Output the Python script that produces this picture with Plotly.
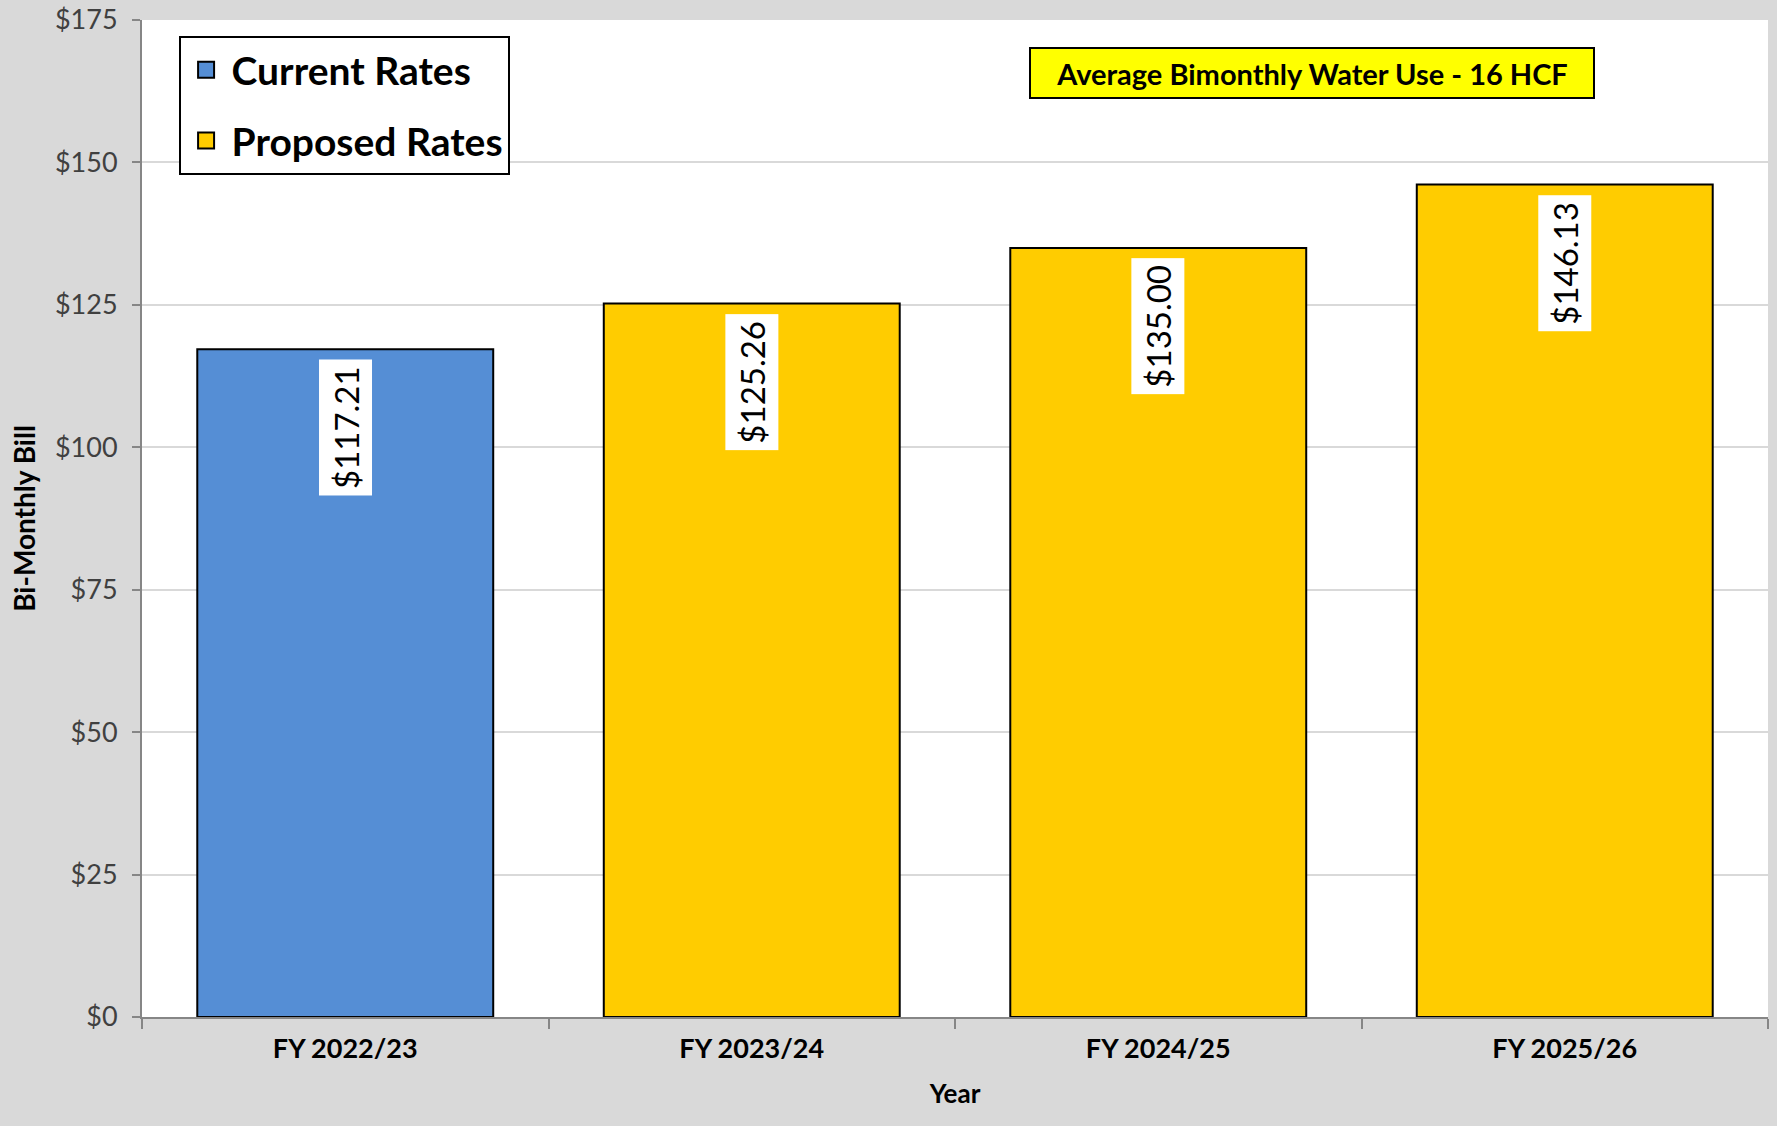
import plotly.graph_objects as go

categories = ["FY 2022/23", "FY 2023/24", "FY 2024/25", "FY 2025/26"]
current_cats = ["FY 2022/23"]
current_vals = [117.21]
proposed_cats = ["FY 2023/24", "FY 2024/25", "FY 2025/26"]
proposed_vals = [125.26, 135.00, 146.13]
y_ticks = [0, 25, 50, 75, 100, 125, 150, 175]
y_ticktext = ["$0", "$25", "$50", "$75", "$100", "$125", "$150", "$175"]

FONT = "Lato"
BLUE = "#558ED5"
GOLD = "#FFCC00"
fig = go.Figure()
fig.add_trace(go.Bar(
    x=current_cats, y=current_vals, name="Current Rates", showlegend=False,
    marker=dict(color=BLUE, line=dict(color="black", width=2)),
    width=0.728, hoverinfo="skip"))
fig.add_trace(go.Bar(
    x=proposed_cats, y=proposed_vals, name="Proposed Rates", showlegend=False,
    marker=dict(color=GOLD, line=dict(color="black", width=2)),
    width=0.728, hoverinfo="skip"))
# legend entries with square swatches
fig.add_trace(go.Scatter(x=[None], y=[None], mode="markers", name="<b>Current Rates</b>",
                         legendgroup="a",
                         marker=dict(symbol="square", size=22, color=BLUE, line=dict(color="black", width=2))))
fig.add_trace(go.Scatter(x=[None], y=[None], mode="markers", name="<b>Proposed Rates</b>",
                         legendgroup="b",
                         marker=dict(symbol="square", size=22, color=GOLD, line=dict(color="black", width=2))))

for c, v in list(zip(current_cats, current_vals)) + list(zip(proposed_cats, proposed_vals)):
    fig.add_annotation(x=c, y=v, xref="x", yref="y", text=f"${v:.2f}",
                       textangle=-90, showarrow=False, yanchor="top", xanchor="center",
                       yshift=-10, bgcolor="white", borderpad=6,
                       font=dict(family=FONT, size=33, color="black"))

fig.add_annotation(x=0.7194, y=0.947, xref="paper", yref="paper",
                   text="<b>Average Bimonthly Water Use - 16 HCF</b>", showarrow=False,
                   xanchor="center", yanchor="middle", bgcolor="#FFFF00",
                   bordercolor="black", borderwidth=2, borderpad=2, width=558, height=44,
                   font=dict(family=FONT, size=29, color="black"))

fig.update_layout(
    width=1777, height=1126,
    margin=dict(l=142, r=9, t=20, b=109, autoexpand=False),
    paper_bgcolor="#D9D9D9", plot_bgcolor="white",
    barmode="overlay",
    showlegend=True,
    legend=dict(x=0.0225, y=0.984, xanchor="left", yanchor="top",
                bgcolor="white", bordercolor="black", borderwidth=2,
                font=dict(family=FONT, size=39, color="black"),
                traceorder="grouped", tracegroupgap=17, itemsizing="trace", itemwidth=41),
    font=dict(family=FONT),
    xaxis=dict(type="category", categoryorder="array", categoryarray=categories,
               range=[-0.5, 3.5], showline=True, linecolor="#868686", linewidth=2,
               ticks="outside", tickson="boundaries", ticklen=10, tickcolor="#868686", tickwidth=2,
               ticklabelstandoff=7, automargin=False,
               tickfont=dict(family=FONT, size=27, color="black", weight="bold"),
               title=dict(text="<b>Year</b>", font=dict(family=FONT, size=26, color="black"), standoff=21)),
    yaxis=dict(range=[0, 175], tickvals=y_ticks, ticktext=y_ticktext,
               showline=True, linecolor="#868686", linewidth=2,
               ticks="outside", ticklen=8, tickcolor="#868686", tickwidth=2,
               ticklabelstandoff=9, automargin=False,
               gridcolor="#D9D9D9", gridwidth=2, zeroline=False,
               tickfont=dict(family=FONT, size=27, color="#404040"),
               title=dict(text="<b>Bi-Monthly Bill</b>", font=dict(family=FONT, size=28, color="black"), standoff=11)),
)
fig.write_html("out.html", config={"displayModeBar": False},
               post_script="document.body.style.margin='0';document.body.style.padding='0';")
